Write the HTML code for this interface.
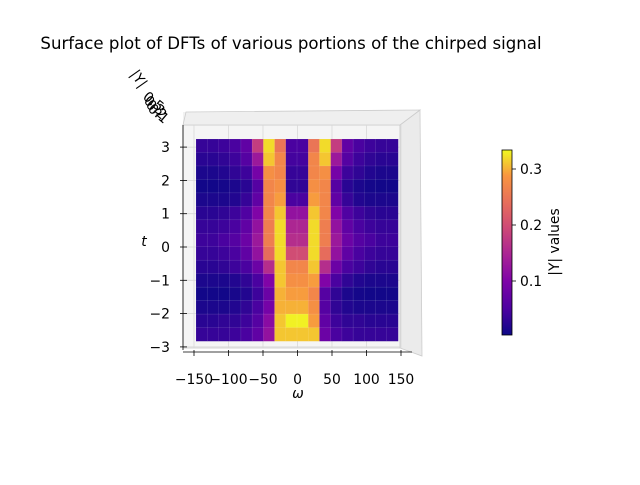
<!DOCTYPE html>
<html><head><meta charset="utf-8">
<style>
html,body{margin:0;padding:0;background:#fff;}
svg text{font-family:"DejaVu Sans","Liberation Sans",sans-serif;}
</style></head>
<body>
<svg id="chart" width="640" height="480" viewBox="0 0 640 480" xmlns="http://www.w3.org/2000/svg">
<defs>
<linearGradient id="plasma" x1="0" y1="1" x2="0" y2="0">
<stop offset="0" stop-color="#0d0887"/><stop offset="0.14" stop-color="#4c02a1"/>
<stop offset="0.29" stop-color="#7e03a8"/><stop offset="0.43" stop-color="#a92395"/>
<stop offset="0.57" stop-color="#cc4778"/><stop offset="0.71" stop-color="#e66c5c"/>
<stop offset="0.86" stop-color="#f89540"/><stop offset="1" stop-color="#f0f921"/>
</linearGradient>
</defs>
<text x="291" y="49" font-size="16.6" text-anchor="middle">Surface plot of DFTs of various portions of the chirped signal</text>
<g>
<polygon points="183,112 420,110 420,356 412,348 183,348" fill="#f2f2f2"/>
<rect x="183" y="125" width="217" height="223" fill="#f5f5f5" stroke="#ccc" stroke-width="0.8"/>
<polygon points="400,125 420,110 422,356 400,348" fill="#ebebeb" stroke="#ccc" stroke-width="0.8"/>
<polygon points="183,125 186,112 420,110 400,125" fill="#efefef" stroke="#ccc" stroke-width="0.8"/>
</g>
<g id="grid"></g>
<g id="surface"></g>
<g id="axes"></g>
<text x="130" y="74" font-size="13.9" transform="rotate(55 130 74)">|Y|</text>
<g font-size="13.9">
<text x="142" y="98" transform="rotate(40 142 98)">0.5</text>
<text x="143" y="102" transform="rotate(40 143 102)">0.3</text>
<text x="145" y="106" transform="rotate(40 145 106)">0.2</text>
<text x="147" y="110" transform="rotate(40 147 110)">0.1</text>
</g>
<text x="144" y="246" font-size="13.9" font-style="italic" text-anchor="middle">t</text>
<text x="298" y="398" font-size="13.9" font-style="italic" text-anchor="middle">ω</text>
<g>
<rect x="502" y="150" width="10" height="185" fill="url(#plasma)" stroke="#000" stroke-width="0.8"/>
<g id="cbticks"></g>
<text x="559" y="242" font-size="13.9" text-anchor="middle" transform="rotate(-90 559 242)">|Y| values</text>
</g>
</svg>
<script>
const omegaCats=[0,1,2,3,4,5,6,7,8,9,10,11,12,13,14,15,16,17];
const tRows=[0,1,2,3,4,5,6,7,8,9,10,11,12,13,14];
const values=[
[0.035,0.035,0.04,0.05,0.07,0.18,0.32,0.25,0.05,0.05,0.25,0.32,0.18,0.07,0.05,0.04,0.035,0.035],
[0.025,0.025,0.03,0.04,0.06,0.13,0.31,0.27,0.045,0.045,0.27,0.31,0.13,0.06,0.04,0.03,0.025,0.025],
[0.015,0.015,0.02,0.03,0.04,0.09,0.28,0.27,0.035,0.035,0.27,0.28,0.09,0.04,0.03,0.02,0.015,0.015],
[0.008,0.008,0.01,0.015,0.025,0.06,0.27,0.28,0.03,0.03,0.28,0.27,0.06,0.025,0.015,0.01,0.008,0.008],
[0.015,0.015,0.015,0.02,0.035,0.07,0.27,0.29,0.05,0.05,0.29,0.27,0.07,0.035,0.02,0.015,0.015,0.015],
[0.025,0.025,0.03,0.04,0.055,0.10,0.27,0.31,0.12,0.12,0.31,0.27,0.10,0.055,0.04,0.03,0.025,0.025],
[0.035,0.035,0.04,0.05,0.07,0.12,0.26,0.32,0.15,0.15,0.32,0.26,0.12,0.07,0.05,0.04,0.035,0.035],
[0.04,0.04,0.05,0.06,0.08,0.13,0.26,0.32,0.16,0.16,0.32,0.26,0.13,0.08,0.06,0.05,0.04,0.04],
[0.035,0.035,0.04,0.05,0.07,0.12,0.24,0.32,0.20,0.20,0.32,0.24,0.12,0.07,0.05,0.04,0.035,0.035],
[0.025,0.025,0.03,0.04,0.05,0.08,0.16,0.31,0.27,0.27,0.31,0.16,0.08,0.05,0.04,0.03,0.025,0.025],
[0.015,0.015,0.015,0.02,0.03,0.05,0.10,0.31,0.28,0.28,0.29,0.10,0.05,0.03,0.02,0.015,0.015,0.015],
[0.008,0.008,0.008,0.012,0.02,0.04,0.08,0.30,0.29,0.29,0.27,0.06,0.03,0.015,0.01,0.008,0.008,0.008],
[0.015,0.015,0.015,0.02,0.03,0.05,0.09,0.30,0.30,0.30,0.28,0.06,0.03,0.02,0.015,0.015,0.015,0.015],
[0.025,0.025,0.03,0.03,0.04,0.06,0.11,0.31,0.33,0.33,0.29,0.07,0.04,0.03,0.03,0.025,0.025,0.025],
[0.035,0.035,0.035,0.04,0.05,0.07,0.12,0.31,0.31,0.31,0.31,0.08,0.05,0.04,0.035,0.035,0.035,0.035]];
const xTickVals=[-150,-100,-50,0,50,100,150];
const xTickLabels=["\u2212150","\u2212100","\u221250","0","50","100","150"];
const yTickVals=[3,2,1,0,-1,-2,-3];
const yTickLabels=["3","2","1","0","\u22121","\u22122","\u22123"];
const cbTickVals=[0.1,0.2,0.3];
const cbTickLabels=["0.1","0.2","0.3"];

const NS="http://www.w3.org/2000/svg";
function mk(tag,attrs,parent){const e=document.createElementNS(NS,tag);for(const k in attrs)e.setAttribute(k,attrs[k]);parent.appendChild(e);return e;}
const X0=196,X1=398,Y0=139,Y1=341;
const cw=(X1-X0)/omegaCats.length, rh=(Y1-Y0)/tRows.length;
function xCell(i){return X0+i*cw;}
function yCell(j){return Y0+j*rh;}
function xAxis(w){return 194+(w+150)*(401-194)/300;}
function yAxis(t){return 247-t*33.3;}
function cbY(v){return 337-560*v;}
const stops=[[13,8,135],[76,2,161],[126,3,168],[169,35,149],[204,71,120],[230,108,92],[248,149,64],[240,249,33]];
function plasma(v){let f=(v-0.004)/(0.334-0.004);f=Math.max(0,Math.min(1,f))*(stops.length-1);const i=Math.min(stops.length-2,Math.floor(f)),r=f-i;const a=stops[i],b=stops[i+1];return `rgb(${a.map((c,k)=>Math.round(c+(b[k]-c)*r)).join(',')})`;}

const grid=document.getElementById('grid');
xTickVals.forEach(v=>{const l=mk('line',{x1:xAxis(v),y1:125,x2:xAxis(v),y2:348,stroke:'#d8d8d8','stroke-width':0.8},grid);

});
yTickVals.forEach(v=>{const l=mk('line',{x1:183,y1:yAxis(v),x2:400,y2:yAxis(v),stroke:'#d8d8d8','stroke-width':0.8},grid);

});

const surf=document.getElementById('surface');
tRows.forEach((r,j)=>{omegaCats.forEach((c,i)=>{
const rc=mk('rect',{x:xCell(i),y:yCell(j),width:cw+0.3,height:rh+0.3,fill:plasma(values[j][i]),stroke:'rgba(255,255,255,0.18)','stroke-width':0.5},surf);


});});

const ax=document.getElementById('axes');
const xl=mk('line',{x1:183,y1:352,x2:412,y2:352,stroke:'#000','stroke-width':0.8},ax);


const yl=mk('line',{x1:183,y1:125,x2:183,y2:350,stroke:'#000','stroke-width':0.8},ax);


xTickVals.forEach((v,k)=>{const t=mk('line',{x1:xAxis(v),y1:350,x2:xAxis(v),y2:356,stroke:'#000','stroke-width':0.8},ax);


const tx=mk('text',{x:xAxis(v),y:384,'font-size':13.9,'text-anchor':'middle'},ax);tx.textContent=xTickLabels[k];

});
yTickVals.forEach((v,k)=>{const t=mk('line',{x1:180,y1:yAxis(v),x2:187,y2:yAxis(v),stroke:'#000','stroke-width':0.8},ax);


const tx=mk('text',{x:170,y:yAxis(v)+5,'font-size':13.9,'text-anchor':'end'},ax);tx.textContent=yTickLabels[k];

});

const cb=document.getElementById('cbticks');
cbTickVals.forEach((v,k)=>{const t=mk('line',{x1:512,y1:cbY(v),x2:516,y2:cbY(v),stroke:'#000','stroke-width':0.8},cb);


const tx=mk('text',{x:520,y:cbY(v)+5,'font-size':13.9},cb);tx.textContent=cbTickLabels[k];

});
</script>
</body></html>
